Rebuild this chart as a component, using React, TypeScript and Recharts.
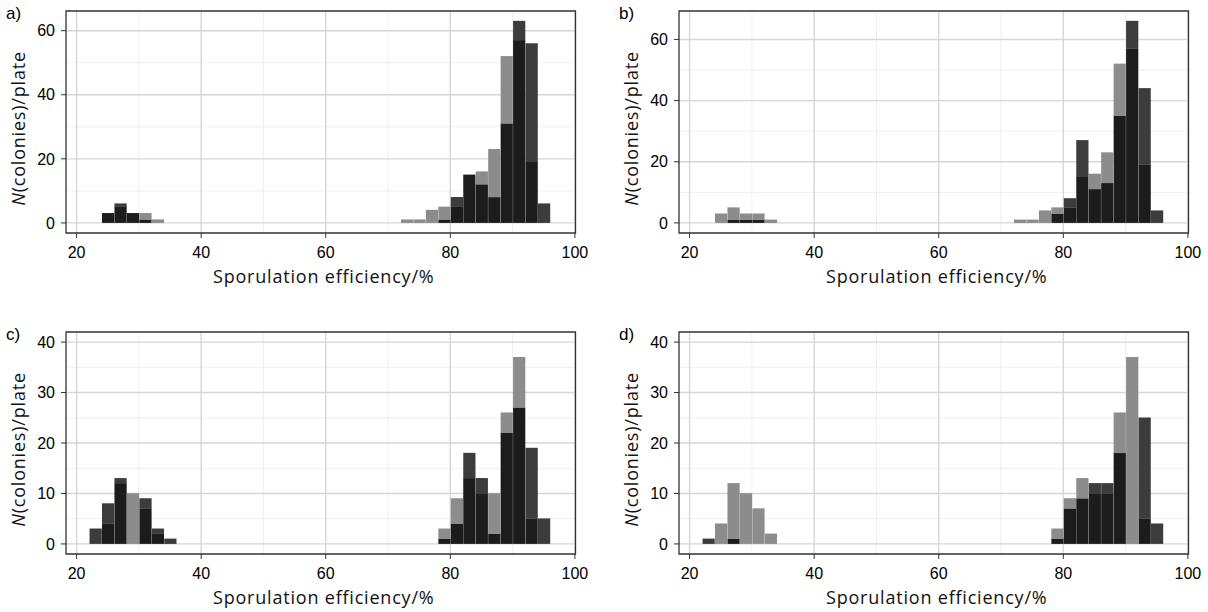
import React from 'react';
import { BarChart, Bar, XAxis, YAxis, CartesianGrid, ReferenceArea } from 'recharts';

// bin centres (2 % wide bins, 22..96)
const bins = [23, 25, 27, 29, 31, 33, 35, 37, 39, 41, 43, 45, 47, 49, 51, 53, 55, 57, 59, 61, 63, 65, 67, 69, 71, 73, 75, 77, 79, 81, 83, 85, 87, 89, 91, 93, 95];

// reference strain, panels a and b
const refAB = [0, 3, 5, 3, 3, 1, 0, 0, 0, 0, 0, 0, 0, 0, 0, 0, 0, 0, 0, 0, 0, 0, 0, 0, 0, 1, 1, 4, 5, 5, 15, 16, 23, 52, 57, 19, 0];
const strainA = [0, 3, 6, 3, 1, 0, 0, 0, 0, 0, 0, 0, 0, 0, 0, 0, 0, 0, 0, 0, 0, 0, 0, 0, 0, 0, 0, 0, 1, 8, 15, 12, 8, 31, 63, 56, 6];
const strainB = [0, 0, 1, 1, 1, 0, 0, 0, 0, 0, 0, 0, 0, 0, 0, 0, 0, 0, 0, 0, 0, 0, 0, 0, 0, 0, 0, 0, 3, 8, 27, 11, 13, 35, 66, 44, 4];

// reference strain, panels c and d
const refCD = [0, 4, 12, 10, 7, 2, 0, 0, 0, 0, 0, 0, 0, 0, 0, 0, 0, 0, 0, 0, 0, 0, 0, 0, 0, 0, 0, 0, 3, 9, 13, 10, 10, 26, 37, 5, 0];
const strainC = [3, 8, 13, 0, 9, 3, 1, 0, 0, 0, 0, 0, 0, 0, 0, 0, 0, 0, 0, 0, 0, 0, 0, 0, 0, 0, 0, 0, 1, 4, 18, 13, 2, 22, 27, 19, 5];
const strainD = [1, 0, 1, 0, 0, 0, 0, 0, 0, 0, 0, 0, 0, 0, 0, 0, 0, 0, 0, 0, 0, 0, 0, 0, 0, 0, 0, 0, 1, 7, 9, 12, 12, 18, 0, 25, 4];

const xTicks = [20, 40, 60, 80, 100];
const xMinor = [30, 50, 70, 90];
const yTicksTop = [0, 20, 40, 60];
const yMinorTop = [10, 30, 50];
const yTicksBottom = [0, 10, 20, 30, 40];
const yMinorBottom = [5, 15, 25, 35];

const X_DOMAIN: [number, number] = [18.3, 100.1];
const BIN_WIDTH = 2;

const CHART_W = 604;
const CHART_H = 300;
const Y_AXIS_W = 66;
const RIGHT_M = 28.5;
const PLOT_W = CHART_W - Y_AXIS_W - RIGHT_M;
// recharts truncates auto bar widths to whole pixels, so give it the exact bin width
const BAR_PX = (BIN_WIDTH * PLOT_W) / (X_DOMAIN[1] - X_DOMAIN[0]);

const tickStyle = { fill: '#000', fontSize: 16, fontFamily: '"Liberation Sans", Arial, sans-serif' };
const titleFont = '"Open Sans", "Noto Sans", sans-serif';

// histogram bins touch each other: pad a little so no white seams show
function BinRect(props: any) {
  const { x, y, width, height, fill } = props;
  if (!height || height <= 0) return null;
  return <rect x={x - 0.5} y={y - 0.25} width={width + 1} height={height + 0.25} fill={fill} />;
}

function XTitle({ viewBox }: any) {
  return (
    <text
      x={viewBox.x + viewBox.width / 2 + 3}
      y={viewBox.y + 50}
      textAnchor="middle"
      fontFamily={titleFont}
      fontSize={18}
      letterSpacing={0.8}
      fill="#111"
    >
      Sporulation efficiency/%
    </text>
  );
}

function YTitle({ viewBox }: any) {
  const cx = 25;
  const cy = viewBox.y + 117.5;
  return (
    <text
      x={cx}
      y={cy}
      transform={`rotate(-90, ${cx}, ${cy})`}
      textAnchor="middle"
      fontFamily={titleFont}
      fontSize={18}
      letterSpacing={0.8}
      fill="#111"
    >
      <tspan fontStyle="italic">N</tspan>(colonies)/plate
    </text>
  );
}

interface PanelProps {
  letter: string;
  reference: number[];
  strain: number[];
  yDomain: [number, number];
  yTicks: number[];
  yMinor: number[];
  left: number;
  top: number;
}

function Panel({ letter, reference, strain, yDomain, yTicks, yMinor, left, top }: PanelProps) {
  // overlap drawn black, the excess of either series in its own grey
  const rows = bins.map((x, i) => ({
    x,
    both: Math.min(reference[i], strain[i]),
    onlyRef: Math.max(reference[i] - strain[i], 0),
    onlyStrain: Math.max(strain[i] - reference[i], 0),
  }));

  return (
    <div style={{ position: 'absolute', left, top, width: CHART_W, height: CHART_H }}>
      <div
        style={{
          position: 'absolute',
          left: 6,
          top: 6,
          fontFamily: '"Liberation Sans", Arial, sans-serif',
          fontSize: 17,
          lineHeight: '16px',
          color: '#000',
        }}
      >
        {letter}
      </div>
      <BarChart
        width={CHART_W}
        height={CHART_H}
        data={rows}
        margin={{ top: 11, right: RIGHT_M, bottom: 0, left: 0 }}
        barCategoryGap={0}
        barGap={0}
        barSize={BAR_PX}
      >
        <CartesianGrid
          verticalValues={xMinor}
          horizontalValues={yMinor}
          stroke="#efefef"
          strokeWidth={1}
        />
        <CartesianGrid
          verticalValues={xTicks}
          horizontalValues={yTicks}
          stroke="#d6d6d6"
          strokeWidth={1.4}
        />
        <XAxis
          dataKey="x"
          type="number"
          domain={X_DOMAIN}
          allowDataOverflow
          ticks={xTicks}
          height={67}
          tick={tickStyle}
          tickSize={5}
          tickMargin={9}
          tickLine={{ stroke: '#333' }}
          axisLine={false}
          label={XTitle}
        />
        <YAxis
          type="number"
          domain={yDomain}
          allowDataOverflow
          ticks={yTicks}
          width={Y_AXIS_W}
          tick={tickStyle}
          tickSize={5}
          tickMargin={6}
          tickLine={{ stroke: '#333' }}
          axisLine={false}
          label={YTitle}
        />
        <Bar dataKey="both" stackId="h" fill="#1c1c1c" shape={BinRect} isAnimationActive={false} />
        <Bar dataKey="onlyRef" stackId="h" fill="#8c8c8c" shape={BinRect} isAnimationActive={false} />
        <Bar dataKey="onlyStrain" stackId="h" fill="#3c3c3c" shape={BinRect} isAnimationActive={false} />
        <ReferenceArea
          x1={X_DOMAIN[0]}
          x2={X_DOMAIN[1]}
          y1={yDomain[0]}
          y2={yDomain[1]}
          fill="none"
          stroke="#333"
          strokeWidth={1.3}
        />
      </BarChart>
    </div>
  );
}

export default function App() {
  return (
    <div style={{ position: 'absolute', left: 0, top: 0, width: 1208, height: 612, background: '#fff' }}>
      <Panel letter="a)" reference={refAB} strain={strainA} yDomain={[-3.15, 66.15]} yTicks={yTicksTop} yMinor={yMinorTop} left={0} top={0} />
      <Panel letter="b)" reference={refAB} strain={strainB} yDomain={[-3.3, 69.3]} yTicks={yTicksTop} yMinor={yMinorTop} left={613} top={0} />
      <Panel letter="c)" reference={refCD} strain={strainC} yDomain={[-2, 42]} yTicks={yTicksBottom} yMinor={yMinorBottom} left={0} top={321} />
      <Panel letter="d)" reference={refCD} strain={strainD} yDomain={[-2, 42]} yTicks={yTicksBottom} yMinor={yMinorBottom} left={613} top={321} />
    </div>
  );
}
